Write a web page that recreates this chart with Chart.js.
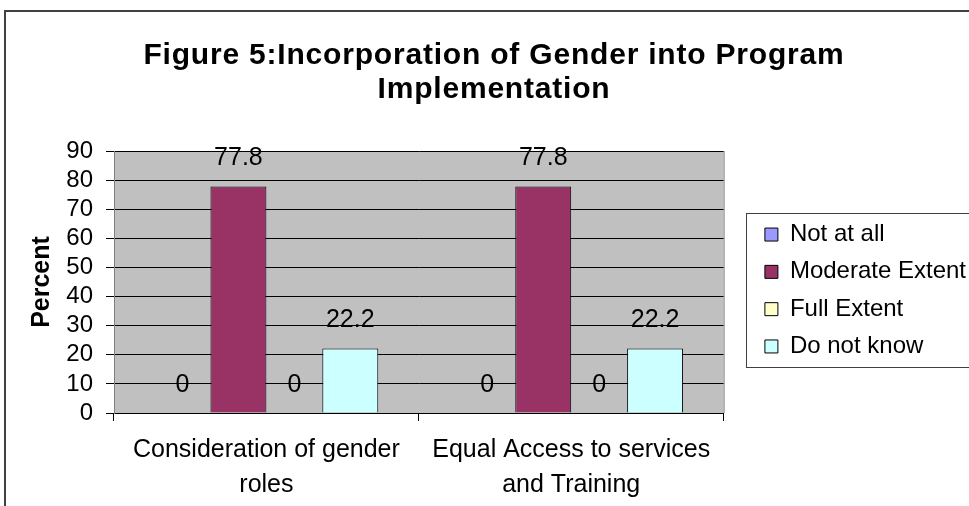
<!DOCTYPE html>
<html>
<head>
<meta charset="utf-8">
<script src="https://cdn.jsdelivr.net/npm/chart.js@4/dist/chart.umd.min.js"></script>
<style>
  html, body { margin: 0; padding: 0; background: #fff; }
  #wrap { width: 969px; height: 506px; position: relative; }
</style>
</head>
<body>
<div id="wrap"><canvas id="gender-chart"></canvas></div>
<script>
// chart values
const categories = [["Consideration of gender", "roles"], ["Equal Access to services", "and Training"]];
const seriesNames = ["Not at all", "Moderate Extent", "Full Extent", "Do not know"];
const notAtAll = [0, 0];
const moderateExtent = [77.8, 77.8];
const fullExtent = [0, 0];
const doNotKnow = [22.2, 22.2];
const yTicks = [0, 10, 20, 30, 40, 50, 60, 70, 80, 90];

const colors = ["#9999FF", "#993366", "#FFFFCC", "#CCFFFF"];
const font = "'Liberation Sans', Arial, sans-serif";
const legendGap = 28;

// gray plot area + outer frame
const plotBg = {
    id: 'plotBg',
    beforeDraw(chart) {
        const {ctx, chartArea: a} = chart;
        ctx.save();
        ctx.fillStyle = '#C0C0C0';
        ctx.fillRect(a.left, a.top, a.right - a.left, a.bottom - a.top);
        ctx.strokeStyle = '#808080';
        ctx.lineWidth = 1;
        ctx.beginPath();
        ctx.moveTo(a.right + 0.5, a.top);
        ctx.lineTo(a.right + 0.5, a.bottom);
        ctx.stroke();
        // chart frame
        ctx.strokeStyle = '#404040';
        ctx.lineWidth = 2;
        ctx.beginPath();
        ctx.moveTo(5, 506);
        ctx.lineTo(5, 11);
        ctx.lineTo(969, 11);
        ctx.stroke();
        ctx.restore();
    }
};

// value labels above bars
const barLabels = {
    id: 'barLabels',
    afterDatasetsDraw(chart) {
        const ctx = chart.ctx;
        ctx.save();
        ctx.font = "25px " + font;
        ctx.fillStyle = '#000';
        ctx.textAlign = 'center';
        ctx.textBaseline = 'middle';
        chart.data.datasets.forEach((ds, i) => {
            chart.getDatasetMeta(i).data.forEach((bar, j) => {
                ctx.fillText(String(ds.data[j]), bar.x, bar.y - 28);
            });
        });
        ctx.restore();
    }
};

// excel-like title spacing, legend gap and frame
const excelLook = {
    id: 'excelLook',
    afterInit(chart) {
        const t = chart.titleBlock;
        const draw = t.draw.bind(t);
        t.draw = function () {
            const ctx = chart.ctx;
            ctx.save();
            ctx.letterSpacing = '0.8px';
            ctx.translate(6, 0);
            draw();
            ctx.restore();
        };
        const lg = chart.legend;
        const fit = lg.fit.bind(lg);
        lg.fit = function () {
            fit();
            this.width += legendGap;
        };
    },
    afterLayout(chart) {
        chart.legend.left += legendGap;
    },
    afterDraw(chart) {
        const lg = chart.legend;
        const ctx = chart.ctx;
        const x = Math.round(lg.left + lg.options.labels.padding - 19) + 0.5;
        ctx.save();
        ctx.strokeStyle = '#404040';
        ctx.lineWidth = 1;
        ctx.strokeRect(x, 213.5, 300, 154);
        ctx.restore();
    }
};

const datasets = [notAtAll, moderateExtent, fullExtent, doNotKnow].map((d, i) => ({
    label: seriesNames[i],
    data: d,
    backgroundColor: colors[i],
    borderColor: '#000',
    borderWidth: 1,
    barPercentage: 1,
    categoryPercentage: 0.734
}));

new Chart(document.getElementById("gender-chart"), {
    type: 'bar',
    data: { labels: categories, datasets: datasets },
    options: {
        responsive: true,
        maintainAspectRatio: false,
        animation: { duration: 0 },
        layout: { padding: { left: 0, right: -7, top: 0, bottom: -8 } },
        scales: {
            x: {
                grid: { offset: true, drawOnChartArea: false, color: '#000', tickLength: 8 },
                border: { color: '#000' },
                ticks: { color: '#000', font: { family: font, size: 25, lineHeight: 1.42 }, padding: 11, maxRotation: 0 }
            },
            y: {
                min: 0,
                max: 90,
                afterBuildTicks: s => { s.ticks = yTicks.map(v => ({ value: v })); },
                afterFit: s => { s.width = 114; },
                grid: { color: '#000', tickLength: 8 },
                border: { color: '#808080' },
                ticks: { color: '#000', font: { family: font, size: 24 }, padding: 13, autoSkip: false },
                title: { display: true, text: 'Percent', color: '#000',
                         font: { family: font, size: 25, weight: 'bold' }, padding: { top: 27, bottom: 0 } }
            }
        },
        plugins: {
            title: {
                display: true,
                text: ['Figure 5:Incorporation of Gender into Program', 'Implementation'],
                color: '#000',
                font: { family: font, size: 30, weight: 'bold', lineHeight: 1.117 },
                padding: { top: 39, bottom: 45 }
            },
            legend: {
                position: 'right',
                fullSize: false,
                title: { display: true, text: '', padding: 0, font: { size: 10, lineHeight: 1.7 } },
                labels: {
                    color: '#000',
                    font: { family: font, size: 24 },
                    boxWidth: 13,
                    boxHeight: 13,
                    padding: 13.3
                }
            },
            tooltip: { enabled: false }
        }
    },
    plugins: [plotBg, barLabels, excelLook]
});
</script>
</body>
</html>
